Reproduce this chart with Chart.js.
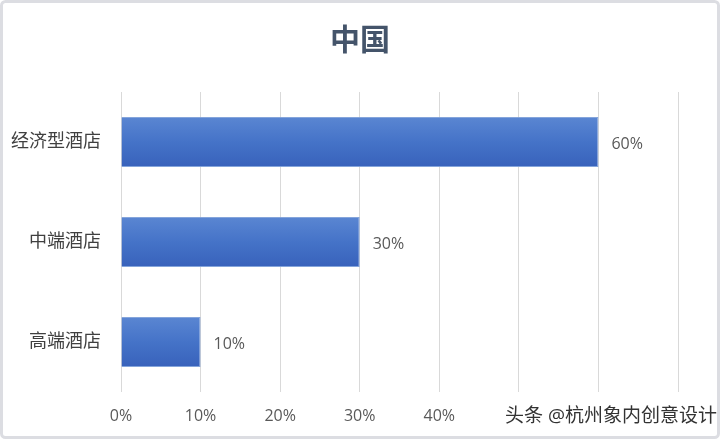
<!DOCTYPE html>
<html>
<head>
<meta charset="utf-8">
<script src="https://cdn.jsdelivr.net/npm/chart.js@4.4.1/dist/chart.umd.min.js"></script>
<style>
  html, body { margin: 0; padding: 0; background: #fff; }
  #wrap { width: 720px; height: 439px; position: relative; }
</style>
</head>
<body>
<div id="wrap"><canvas id="hotelChart" width="720" height="439"></canvas></div>
<script>
// données
const titre = '中国';
const categories = ['经济型酒店', '中端酒店', '高端酒店'];
const parts = [60, 30, 10]; // en %
const xTicks = [0, 10, 20, 30, 40, 50, 60, 70];
const watermark = '头条 @杭州象内创意设计';

const fontFamily = "'Open Sans', 'Noto Sans CJK SC', sans-serif";

// dégradé bleu façon Excel, calculé pour chaque barre
function barGradient(context) {
    const chart = context.chart;
    const yScale = chart.scales.y;
    if (!yScale || context.dataIndex === undefined) return '#4472C4';
    const center = yScale.getPixelForValue(context.dataIndex);
    if (!isFinite(center)) return '#4472C4';
    const half = 25;
    const g = chart.ctx.createLinearGradient(0, center - half, 0, center + half);
    g.addColorStop(0, '#5a86d2');
    g.addColorStop(0.5, '#4573c8');
    g.addColorStop(1, '#3862bb');
    return g;
}

// étiquettes de valeur au bout des barres
const valueLabels = {
    id: 'valueLabels',
    afterDatasetsDraw(chart) {
        const ctx = chart.ctx;
        const meta = chart.getDatasetMeta(0);
        ctx.save();
        ctx.font = '16px ' + fontFamily;
        ctx.fillStyle = '#595959';
        ctx.textAlign = 'left';
        ctx.textBaseline = 'middle';
        meta.data.forEach((bar, i) => {
            ctx.fillText(parts[i] + '%', bar.x + 13, bar.y + 2);
        });
        ctx.restore();
    }
};

// titre centré sur toute la largeur, cadre gris, filigrane
const frameAndMark = {
    id: 'frameAndMark',
    beforeDraw(chart) {
        const ctx = chart.ctx;
        ctx.save();
        ctx.fillStyle = '#ffffff';
        ctx.fillRect(0, 0, chart.width, chart.height);
        ctx.font = 'bold 30px ' + fontFamily;
        ctx.fillStyle = '#44546a';
        ctx.textAlign = 'center';
        ctx.textBaseline = 'middle';
        ctx.fillText(titre, chart.width / 2, 41);
        ctx.restore();
    },
    afterDraw(chart) {
        const ctx = chart.ctx;
        ctx.save();
        // filigrane
        ctx.fillStyle = '#ffffff';
        ctx.fillRect(500, 400, 214, 32);
        ctx.font = '19px ' + fontFamily;
        ctx.textAlign = 'left';
        ctx.textBaseline = 'middle';
        ctx.lineWidth = 3;
        ctx.strokeStyle = 'rgba(255,255,255,0.9)';
        ctx.strokeText(watermark, 505, 417);
        ctx.fillStyle = '#333333';
        ctx.fillText(watermark, 505, 417);
        // cadre
        ctx.strokeStyle = '#dcdde2';
        ctx.lineWidth = 3;
        ctx.beginPath();
        ctx.roundRect(1.5, 1.5, chart.width - 3, chart.height - 3, 4);
        ctx.stroke();
        ctx.restore();
    }
};

const ctx = document.getElementById('hotelChart').getContext('2d');

new Chart(ctx, {
    type: 'bar',
    data: {
        labels: categories,
        datasets: [{
            label: titre,
            data: parts,
            backgroundColor: barGradient,
            borderColor: 'rgba(120,155,215,0.9)',
            borderWidth: 1,
            barPercentage: 0.5,
            categoryPercentage: 1.0
        }]
    },
    options: {
        indexAxis: 'y',
        responsive: false,
        animation: false,
        layout: { padding: { left: 0, right: 42, top: 92, bottom: 0 } },
        plugins: {
            legend: { display: false },
            tooltip: { enabled: false },
            title: { display: false }
        },
        scales: {
            x: {
                min: 0,
                max: 70,
                afterBuildTicks(scale) {
                    scale.ticks = xTicks.map(v => ({ value: v }));
                },
                ticks: {
                    callback: v => v + '%',
                    color: '#595959',
                    font: { size: 16, family: fontFamily },
                    padding: 15,
                    maxRotation: 0
                },
                grid: { color: '#d9d9d9', lineWidth: 1, drawTicks: false },
                border: { display: false },
                afterFit(scale) { scale.height = 47; }
            },
            y: {
                ticks: {
                    color: '#404040',
                    font: { size: 18, family: fontFamily },
                    padding: 20
                },
                grid: { display: false, drawTicks: false },
                border: { display: false },
                afterFit(scale) { scale.width = 121; }
            }
        }
    },
    plugins: [valueLabels, frameAndMark]
});
</script>
</body>
</html>
